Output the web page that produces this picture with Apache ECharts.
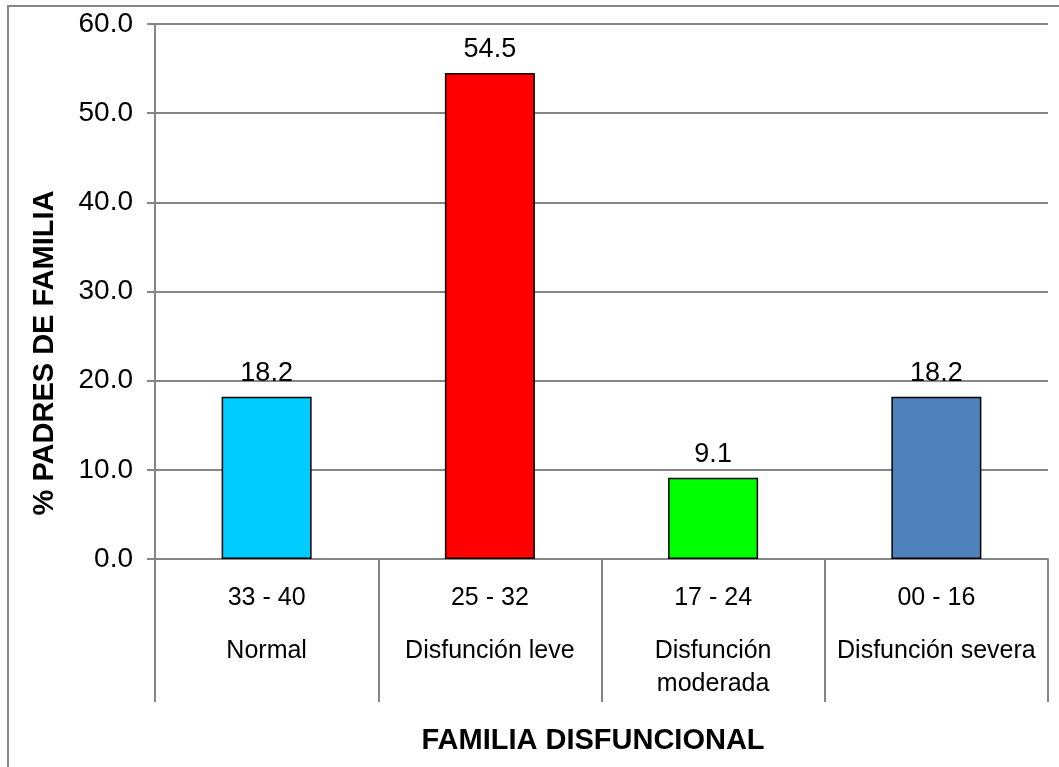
<!DOCTYPE HTML>
<html>
<head>
    <meta charset="utf-8">
    <title>Familia disfuncional</title>
    <script type="text/javascript" src="https://cdn.jsdelivr.net/npm/echarts@6/dist/echarts.min.js"></script>
    <style>
        html, body { margin: 0; padding: 0; background: #ffffff; }
        #main { width: 1059px; height: 767px; }
    </style>
</head>
<body>
<div id="main"></div>
<script>
    // datos del grafico
    var rangos = ['33 - 40', '25 - 32', '17 - 24', '00 - 16'];
    var niveles = ['Normal', 'Disfunción leve', 'Disfunción\nmoderada', 'Disfunción severa'];
    var porcentajes = [18.2, 54.5, 9.1, 18.2];
    var colores = ['#00CCFF', '#FF0000', '#00FF00', '#4F81BD'];
    var yTicks = [0, 10, 20, 30, 40, 50, 60];

    var gris = '#868686';
    var fuente = '"Liberation Sans", Arial, sans-serif';

    var categorias = [];
    for (var i = 0; i < rangos.length; i++) {
        categorias.push('{r|' + rangos[i] + '}\n{n|' + niveles[i] + '}');
    }

    var barras = [];
    for (var j = 0; j < porcentajes.length; j++) {
        barras.push({
            value: porcentajes[j],
            itemStyle: { color: colores[j] }
        });
    }

    var myChart = echarts.init(document.getElementById('main'));

    var option = {
        animation: false,
        backgroundColor: '#ffffff',
        textStyle: { fontFamily: fuente },
        grid: {
            left: 155,
            right: 11,
            top: 24,
            bottom: 208
        },
        graphic: [
            {
                type: 'rect',
                shape: { x: 8, y: 6, width: 1100, height: 800 },
                style: { fill: 'none', stroke: gris, lineWidth: 2 },
                silent: true
            },
            {
                type: 'text',
                x: 45,
                y: 353,
                rotation: Math.PI / 2,
                style: {
                    text: '% PADRES DE FAMILIA',
                    font: 'bold 29px ' + fuente,
                    fill: '#000000',
                    align: 'center',
                    verticalAlign: 'middle'
                }
            },
            {
                type: 'text',
                x: 593,
                y: 741,
                style: {
                    text: 'FAMILIA DISFUNCIONAL',
                    font: 'bold 29px ' + fuente,
                    fill: '#000000',
                    align: 'center',
                    verticalAlign: 'middle'
                }
            }
        ],
        xAxis: {
            type: 'category',
            data: categorias,
            axisLine: { show: true, lineStyle: { color: gris, width: 2 } },
            axisTick: { show: true, length: 143, lineStyle: { color: gris, width: 2 } },
            axisLabel: {
                interval: 0,
                margin: 2,
                color: '#000000',
                rich: {
                    r: { fontSize: 25, lineHeight: 74, color: '#000000', fontFamily: fuente },
                    n: { fontSize: 25, lineHeight: 33, color: '#000000', fontFamily: fuente }
                }
            }
        },
        yAxis: {
            type: 'value',
            min: yTicks[0],
            max: yTicks[yTicks.length - 1],
            interval: 10,
            axisLine: { show: true, lineStyle: { color: gris, width: 2 } },
            axisTick: { show: true, length: 8, lineStyle: { color: gris, width: 2 } },
            splitLine: { show: true, lineStyle: { color: gris, width: 2 } },
            axisLabel: {
                margin: 22,
                fontSize: 28,
                color: '#000000',
                formatter: function (v) { return v.toFixed(1); }
            }
        },
        series: [
            {
                type: 'bar',
                data: barras,
                barWidth: 90,
                itemStyle: { borderColor: '#000000', borderWidth: 1.5 },
                label: {
                    show: true,
                    position: 'top',
                    distance: 10,
                    fontSize: 27,
                    color: '#000000',
                    formatter: function (p) { return p.value.toFixed(1); }
                }
            }
        ]
    };

    myChart.setOption(option);
</script>
</body>
</html>
